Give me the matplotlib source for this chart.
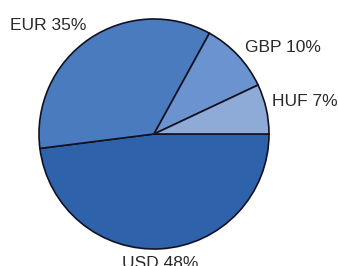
import matplotlib.pyplot as plt

# currency shares
labels = ["USD", "EUR", "GBP", "HUF"]
shares = [48, 35, 10, 7]
colors = ["#2e62ab", "#4b7bbf", "#6b93cf", "#8eabd8"]

plt.rcParams["font.family"] = ["Liberation Sans", "DejaVu Sans"]

W, H = 338, 266
fig = plt.figure(figsize=(W / 100, H / 100), dpi=100)
ax = fig.add_axes([0, 0, 1, 1])

texts = ax.pie(
    shares,
    labels=[f"{l} {s}%" for l, s in zip(labels, shares)],
    colors=colors,
    startangle=0,
    counterclock=False,
    center=(154, H - 134),
    radius=115,
    wedgeprops=dict(edgecolor="#111122", linewidth=1.2),
    textprops=dict(fontsize=12.5, color="#2a2a2a"),
)[1]

# label placement as in the original
spots = [(160, H - 256, "center", "top"),
         (86, H - 25, "right", "center"),
         (245, H - 47, "left", "center"),
         (272, H - 101, "left", "center")]
for t, (x, y, ha, va) in zip(texts, spots):
    t.set_position((x, y))
    t.set_ha(ha)
    t.set_va(va)

ax.set_xlim(0, W)
ax.set_ylim(0, H)
ax.set_aspect("equal")
ax.axis("off")

fig.savefig("out.png", dpi=100)
